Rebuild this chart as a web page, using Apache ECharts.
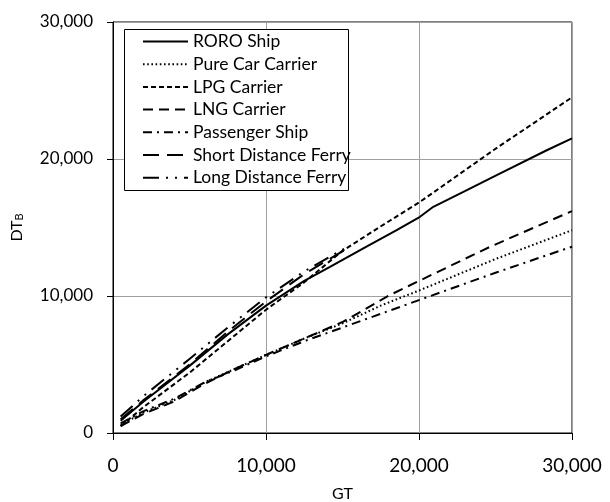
<!DOCTYPE html>
<html>
<head>
<meta charset="utf-8">
<script src="https://cdn.jsdelivr.net/npm/echarts@6/dist/echarts.min.js"></script>
<style>
  html, body { margin: 0; padding: 0; background: #fff; }
  #chart { width: 610px; height: 502px; }
</style>
</head>
<body>
<div id="chart"></div>
<script>
// Ship types shown in the legend, in order
const shipTypes = ['RORO Ship', 'Pure Car Carrier', 'LPG Carrier', 'LNG Carrier',
  'Passenger Ship', 'Short Distance Ferry', 'Long Distance Ferry'];

// GT values sampled along each curve and the corresponding DT_B
const roroGT   = [500, 2000, 5000, 7500, 10000, 12500, 14180, 16360, 18540, 20065, 20935, 22900, 25080, 28350, 30000];
const roroDT   = [900, 2300, 4900, 7200, 9300, 11100, 12130, 13470, 14810, 15780, 16510, 17600, 18820, 20640, 21500];

const pccGT    = [500, 2000, 4000, 6000, 8000, 10000, 12500, 15000, 17500, 20000, 25000, 30000];
const pccDT    = [600, 1500, 2400, 3700, 4700, 5700, 6900, 8000, 9300, 10400, 12700, 14800];

const lpgGT    = [500, 2000, 5000, 7500, 10000, 12500, 15000, 17450, 20065, 24860, 30000];
const lpgDT    = [500, 1900, 4400, 6700, 9000, 11000, 13300, 15050, 16870, 20640, 24500];

const lngGT    = [500, 2000, 4000, 6000, 8000, 10000, 12500, 15000, 18100, 20000, 24640, 30000];
const lngDT    = [500, 1400, 2300, 3600, 4700, 5700, 6900, 8100, 10070, 11100, 13590, 16200];

const paxGT    = [500, 2000, 4000, 6000, 8000, 10000, 12500, 15000, 17500, 20000, 25000, 30000];
const paxDT    = [700, 1600, 2500, 3700, 4600, 5600, 6700, 7700, 8700, 9700, 11700, 13600];

const sdfGT    = [500, 2000, 5000, 7500, 10000, 12500, 15500];
const sdfDT    = [1000, 2400, 5000, 7400, 9600, 11600, 13600];

const ldfGT    = [500, 2000, 5000, 7500, 10000, 12500, 15500];
const ldfDT    = [1200, 2700, 5400, 7700, 9900, 11800, 13700];

// Axis ranges
const axisMin = 0, axisMax = 30000, axisStep = 10000;

const zip = (xs, ys) => xs.map((x, i) => [x, ys[i]]);

const curves = [
  { name: shipTypes[0], data: zip(roroGT, roroDT), dash: 'solid' },
  { name: shipTypes[1], data: zip(pccGT, pccDT),   dash: [1.6, 2.6] },
  { name: shipTypes[2], data: zip(lpgGT, lpgDT),   dash: [5, 3] },
  { name: shipTypes[3], data: zip(lngGT, lngDT),   dash: [10, 6] },
  { name: shipTypes[4], data: zip(paxGT, paxDT),   dash: [9, 5, 2, 5] },
  { name: shipTypes[5], data: zip(sdfGT, sdfDT),   dash: [16, 8] },
  { name: shipTypes[6], data: zip(ldfGT, ldfDT),   dash: [16, 7, 2, 7, 2, 7] }
];

const font = 'Lato, "Liberation Sans", sans-serif';
const fmt = v => v.toLocaleString('en-US');

const chart = echarts.init(document.getElementById('chart'), null, { renderer: 'canvas' });
chart.setOption({
  animation: false,
  backgroundColor: '#fff',
  grid: {
    left: 113, right: 38, top: 22, bottom: 69,
    outerBoundsMode: 'none',
    containLabel: false,
    show: true, borderColor: '#000', borderWidth: 1, backgroundColor: 'transparent'
  },
  graphic: [{
    type: 'rect',
    left: 124, top: 29,
    shape: { width: 224, height: 161 },
    style: { fill: '#fff', stroke: '#000', lineWidth: 1 },
    z: 5
  }],
  legend: {
    orient: 'vertical',
    left: 142, top: 32.5,
    padding: 0,
    itemWidth: 45, itemHeight: 14, itemGap: 4.7,
    itemStyle: { opacity: 0 },
    textStyle: { fontFamily: font, fontSize: 17.5, lineHeight: 18, color: '#000' },
    z: 10,
    data: shipTypes
  },
  xAxis: {
    type: 'value',
    min: axisMin, max: axisMax, interval: axisStep,
    name: 'GT', nameLocation: 'middle', nameGap: 53,
    nameTextStyle: { fontFamily: font, fontSize: 16, color: '#000' },
    axisLine: { show: true, lineStyle: { color: '#000', width: 1 } },
    axisTick: { show: true, inside: false, length: 7, lineStyle: { color: '#000' } },
    axisLabel: { fontFamily: font, fontSize: 19, color: '#000', margin: 23, formatter: fmt },
    splitLine: { show: true, lineStyle: { color: '#a0a0a0', width: 1 } }
  },
  yAxis: {
    type: 'value',
    min: axisMin, max: axisMax, interval: axisStep,
    name: 'DT{sub|B}', nameLocation: 'middle', nameGap: 88, nameRotate: 90,
    nameTextStyle: {
      fontFamily: font, fontSize: 16, color: '#000',
      rich: { sub: { fontFamily: font, fontSize: 11, color: '#000', verticalAlign: 'bottom', padding: [5, 0, 0, 0] } }
    },
    axisLine: { show: true, lineStyle: { color: '#000', width: 1 } },
    axisTick: { show: true, inside: false, length: 6, lineStyle: { color: '#000' } },
    axisLabel: { fontFamily: font, fontSize: 17, color: '#000', margin: 20, formatter: fmt },
    splitLine: { show: true, lineStyle: { color: '#a0a0a0', width: 1 } }
  },
  series: curves.map(c => ({
    name: c.name,
    type: 'line',
    data: c.data,
    symbol: 'none',
    showSymbol: false,
    smooth: false,
    z: 3,
    itemStyle: { color: '#000' },
    lineStyle: { color: '#000', width: 2, type: c.dash }
  }))
});
</script>
</body>
</html>
